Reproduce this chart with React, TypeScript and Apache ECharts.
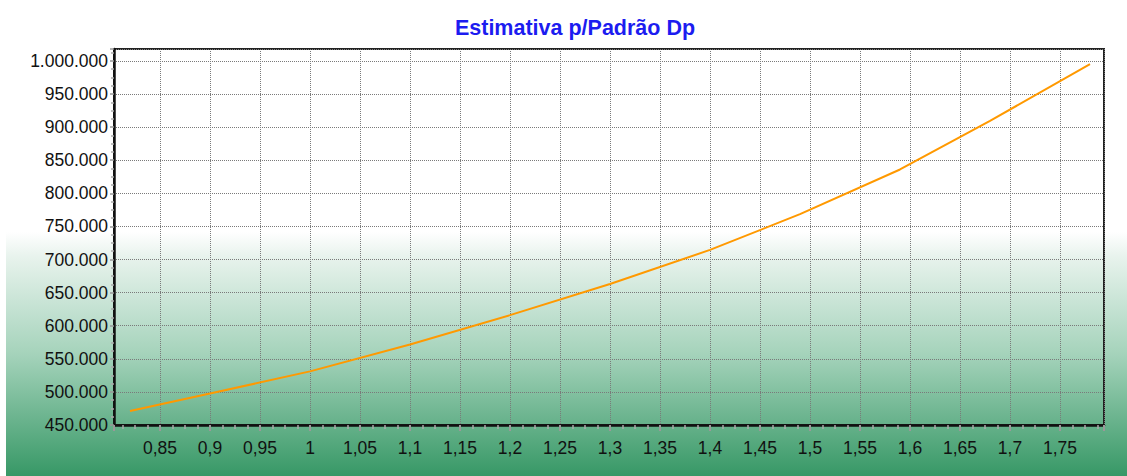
import React, { useEffect, useRef } from "react";
import * as echarts from "echarts";

const titleText = "Estimativa p/Padrão Dp";
const xValues = [0.82, 0.9, 1.0, 1.1, 1.2, 1.3, 1.4, 1.49, 1.59, 1.68, 1.78];
const yValues = [471000, 497500, 531000, 571500, 616000, 663000, 714500, 768500, 836000, 909500, 995000];

const fmtX = (v: number) => String(+v.toFixed(2)).replace(".", ",");
const fmtY = (v: number) => Math.round(v).toString().replace(/\B(?=(\d{3})+(?!\d))/g, ".");

export default function App() {
  const ref = useRef<HTMLDivElement>(null);
  useEffect(() => {
    if (!ref.current) return;
    const chart = echarts.init(ref.current, null, { renderer: "svg" });
    const font = "'Liberation Sans', Arial, Helvetica, sans-serif";
    chart.setOption({
      animation: false,
      backgroundColor: "#ffffff",
      graphic: [
        {
          type: "rect",
          z: -10,
          silent: true,
          shape: { x: 6, y: 232, width: 1121, height: 244 },
          style: {
            fill: new echarts.graphic.LinearGradient(0, 0, 0, 1, [
              { offset: 0, color: "#ffffff" },
              { offset: 0.1, color: "#e8f3ed" },
              { offset: 0.5, color: "#a5d3bb" },
              { offset: 1, color: "#379866" },
            ]),
          },
        },
      ],
      title: {
        text: titleText,
        left: 570,
        top: 12,
        textAlign: "center",
        textStyle: { color: "#1c1cf0", fontSize: 21.5, fontWeight: "bold", fontFamily: font },
      },
      grid: {
        left: 114,
        right: 23,
        top: 49,
        bottom: 51,
        show: true,
        borderColor: "#222",
        borderWidth: 2,
        backgroundColor: "transparent",
      },
      xAxis: {
        type: "value",
        min: 0.804,
        max: 1.794,
        splitNumber: 20,
        minInterval: 0.05,
        maxInterval: 0.05,
        axisLine: { show: true, lineStyle: { color: "#111", width: 2.5 } },
        axisTick: { show: true, length: 6, lineStyle: { color: "#999", width: 2 } },
        minorTick: { show: true, splitNumber: 4, length: 4, lineStyle: { color: "#aaa", width: 1.5 } },
        axisLabel: {
          margin: 14,
          color: "#111",
          fontSize: 17.5,
          fontFamily: font,
          showMinLabel: false,
          showMaxLabel: false,
          formatter: (v: number) => fmtX(v),
        },
        splitLine: { show: true, lineStyle: { color: "#7a7a7a", width: 1, type: [1, 1] } },
      },
      yAxis: {
        type: "value",
        min: 450000,
        max: 1018000,
        interval: 50000,
        axisLine: { show: true, lineStyle: { color: "#111", width: 2.5 } },
        axisTick: { show: true, length: 4, lineStyle: { color: "#999", width: 1.5 } },
        minorTick: { show: true, splitNumber: 4, length: 3, lineStyle: { color: "#aaa", width: 1.5 } },
        axisLabel: {
          margin: 6,
          color: "#111",
          fontSize: 17.5,
          fontFamily: font,
          showMaxLabel: false,
          formatter: (v: number) => fmtY(v),
        },
        splitLine: { show: true, lineStyle: { color: "#7a7a7a", width: 1, type: [1, 1] } },
      },
      series: [
        {
          type: "line",
          data: xValues.map((x, i) => [x, yValues[i]]),
          showSymbol: false,
          symbol: "none",
          lineStyle: { color: "#ff9900", width: 2 },
          z: 5,
        },
      ],
    });
    return () => chart.dispose();
  }, []);
  return (
    <div
      ref={ref}
      style={{ position: "fixed", left: 0, top: 0, width: 1127, height: 476, background: "#fff" }}
    />
  );
}
